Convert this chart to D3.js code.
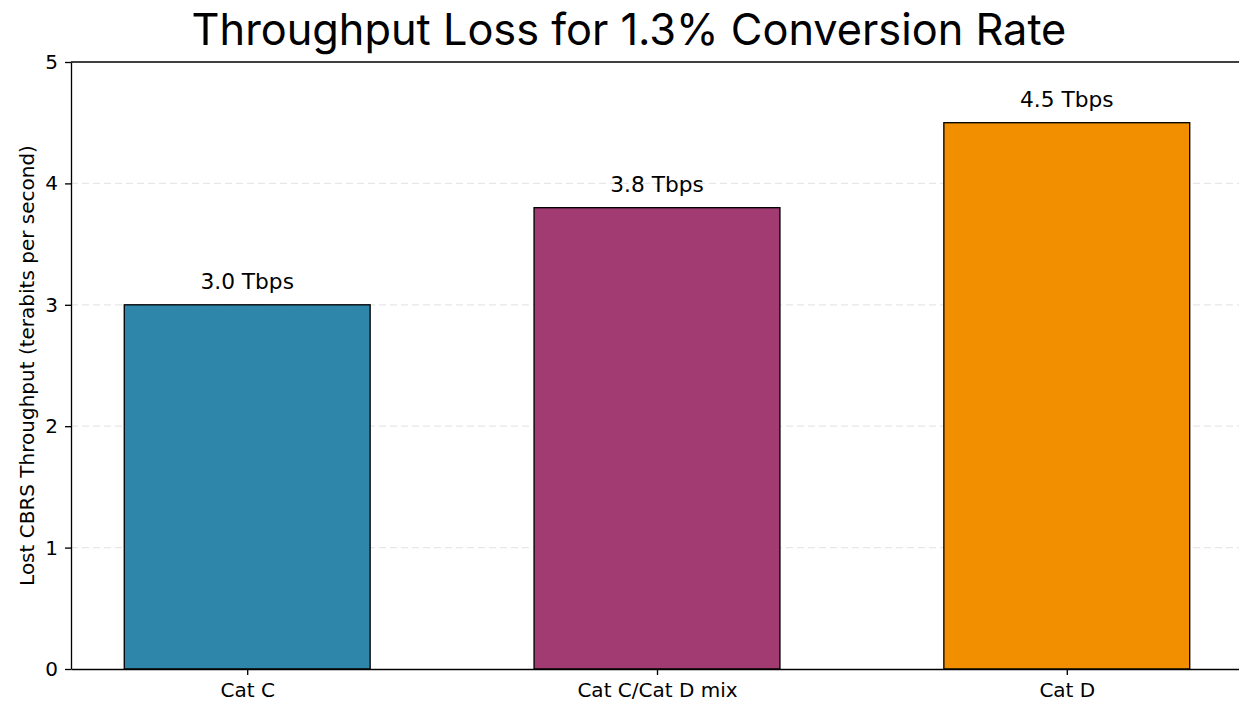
<!DOCTYPE html>
<html>
<head>
<meta charset="utf-8">
<script src="https://cdn.jsdelivr.net/npm/d3@7"></script>
<style>
  html, body { margin: 0; padding: 0; background: #fff; }
  svg { display: block; }
</style>
</head>
<body>
<svg id="chart" width="1239" height="701"></svg>
<script>
// Chart data
const categories = ["Cat C", "Cat C/Cat D mix", "Cat D"];
const values = [3.0, 3.8, 4.5];
const barLabels = ["3.0 Tbps", "3.8 Tbps", "4.5 Tbps"];
const barColors = ["#2E86AB", "#A23B72", "#F18F01"];
const yTicks = [0, 1, 2, 3, 4, 5];
const gridTicks = [1, 2, 3, 4];

const svg = d3.select("#chart");
const plotLeft = 71, plotRight = 1243, plotTop = 62, plotBottom = 669;
const barWidth = 0.6;
const lw = 1.33;

const x = d3.scaleLinear().domain([-0.43, 2.43]).range([plotLeft, plotRight]);
const y = d3.scaleLinear().domain([0, 5]).range([plotBottom, plotTop]);

const font = "DejaVu Sans, sans-serif";

// Dashed horizontal grid
svg.append("g").selectAll("line").data(gridTicks).join("line")
  .attr("x1", plotLeft).attr("x2", plotRight)
  .attr("y1", d => y(d)).attr("y2", d => y(d))
  .attr("stroke", "#b0b0b0").attr("stroke-opacity", 0.3)
  .attr("stroke-width", 1.2).attr("stroke-dasharray", "7,4");

// Bars
svg.append("g").selectAll("rect").data(values).join("rect")
  .attr("x", (d, i) => x(i - barWidth / 2))
  .attr("width", (d, i) => x(i + barWidth / 2) - x(i - barWidth / 2))
  .attr("y", d => y(d))
  .attr("height", d => y(0) - y(d))
  .attr("fill", (d, i) => barColors[i])
  .attr("stroke", "#000").attr("stroke-width", lw);

// Value labels above bars
svg.append("g").selectAll("text").data(values).join("text")
  .attr("x", (d, i) => x(i))
  .attr("y", d => y(d) - 16)
  .attr("text-anchor", "middle")
  .attr("font-family", font).attr("font-size", 21.7)
  .attr("fill", "#000")
  .text((d, i) => barLabels[i]);

// Y axis
const yAxis = svg.append("g").attr("transform", `translate(${plotLeft},0)`)
  .call(d3.axisLeft(y).tickValues(yTicks).tickFormat(d3.format("d"))
    .tickSizeInner(6).tickSizeOuter(0).tickPadding(7));
yAxis.select(".domain").attr("stroke", "#000").attr("stroke-width", lw);
yAxis.selectAll(".tick line").attr("stroke", "#000").attr("stroke-width", lw);
yAxis.selectAll(".tick text").attr("font-family", font).attr("font-size", 20).attr("fill", "#000");

// X axis
const xAxis = svg.append("g").attr("transform", `translate(0,${plotBottom})`)
  .call(d3.axisBottom(x).tickValues(d3.range(categories.length)).tickFormat(i => categories[i])
    .tickSizeInner(6).tickSizeOuter(0).tickPadding(8));
xAxis.select(".domain").attr("stroke", "#000").attr("stroke-width", lw);
xAxis.selectAll(".tick line").attr("stroke", "#000").attr("stroke-width", lw);
xAxis.selectAll(".tick text").attr("font-family", font).attr("font-size", 20).attr("fill", "#000");

// Top and right spines
svg.append("line")
  .attr("x1", plotLeft).attr("x2", plotRight).attr("y1", plotTop).attr("y2", plotTop)
  .attr("stroke", "#000").attr("stroke-width", lw);
svg.append("line")
  .attr("x1", plotRight).attr("x2", plotRight).attr("y1", plotTop).attr("y2", plotBottom)
  .attr("stroke", "#000").attr("stroke-width", lw);

// Y axis label
svg.append("text")
  .attr("transform", `translate(34,${(plotTop + plotBottom) / 2}) rotate(-90)`)
  .attr("text-anchor", "middle")
  .attr("font-family", font).attr("font-size", 20).attr("fill", "#000")
  .text("Lost CBRS Throughput (terabits per second)");

// Title
svg.append("text")
  .attr("x", 629).attr("y", 45)
  .attr("text-anchor", "middle")
  .attr("font-family", "Inter, Roboto, sans-serif").attr("font-size", 43.3)
  .attr("fill", "#000")
  .text("Throughput Loss for 1.3% Conversion Rate");
</script>
</body>
</html>
